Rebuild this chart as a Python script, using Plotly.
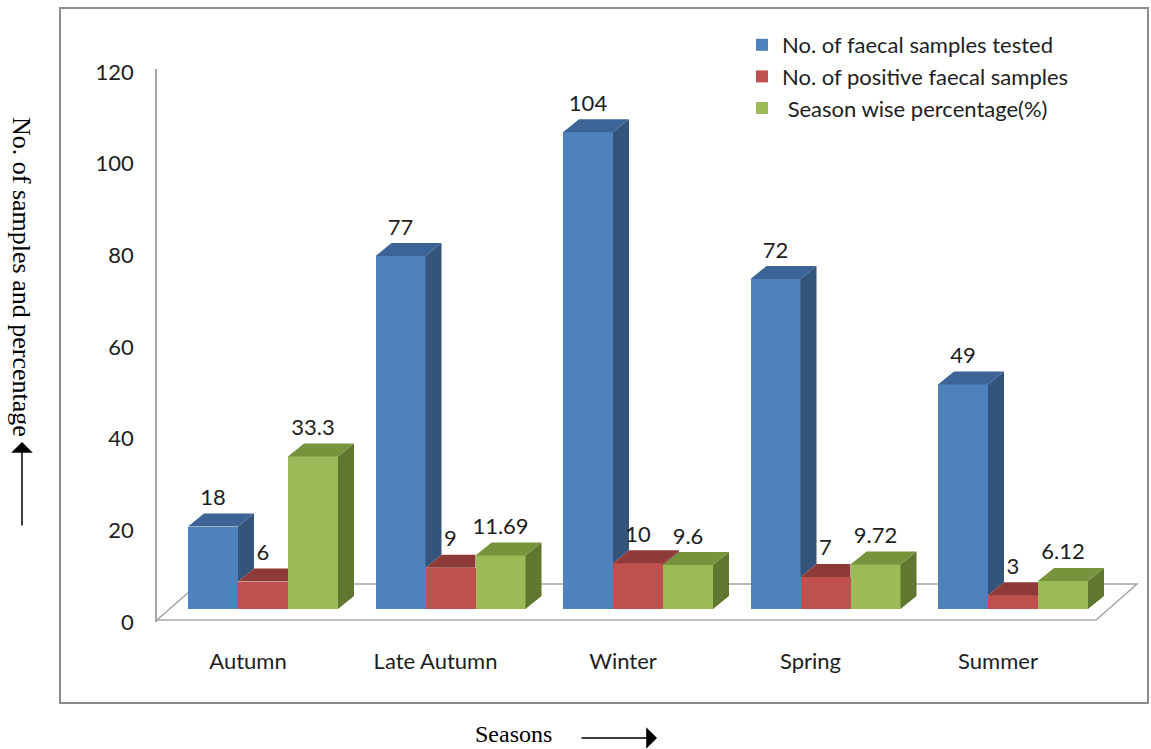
import plotly.graph_objects as go

# ---------------- data ----------------
categories = ["Autumn", "Late Autumn", "Winter", "Spring", "Summer"]
tested = [18, 77, 104, 72, 49]
positive = [6, 9, 10, 7, 3]
percentage = [33.3, 11.69, 9.6, 9.72, 6.12]
series_names = ["No. of faecal samples tested",
                "No. of positive faecal samples",
                " Season wise percentage(%)"]
y_ticks = [0, 20, 40, 60, 80, 100, 120]

# ---------------- style ----------------
front_colors = ["#4F81BD", "#C0504D", "#9BBB59"]
top_colors = ["#3C6496", "#8E3A38", "#77933C"]
side_colors = ["#34547C", "#7A3230", "#5F772F"]
LABEL_FONT = "Lato, 'Open Sans', sans-serif"
SERIF = "'Liberation Serif', 'Times New Roman', serif"
TXT = "#1E1E1E"

W, H = 1151, 749
PL, PR, PT, PB = 157, 1145, 69, 622          # plot area in pixels
GROUP_PX = 187.5                              # pixels per category
G0 = 263                                      # pixel of first category centre
PX_PER_UNIT = 4.583                           # pixels per value unit
BASE_PX = 609                                 # pixel row of value 0 for bars

x_range = [(PL - G0) / GROUP_PX, (PR - G0) / GROUP_PX]
y_range = [(BASE_PX - PB) / PX_PER_UNIT, (BASE_PX - PT) / PX_PER_UNIT]
y2_range = [0, (PB - PT) / PX_PER_UNIT]

bar_w = 50 / GROUP_PX
dx = 16 / GROUP_PX
dy = 13 / PX_PER_UNIT
label_lift = 3 / PX_PER_UNIT


def px_x(p):
    return (p - G0) / GROUP_PX


def px_y(p):
    return (BASE_PX - p) / PX_PER_UNIT


def paper_x(p):
    return p / W


def paper_y(p):
    return 1 - p / H


series = [tested, positive, percentage]
idx = list(range(len(categories)))
offsets = [-bar_w, 0.0, bar_w]

fig = go.Figure()

# front faces
for k, vals in enumerate(series):
    fig.add_trace(go.Bar(
        x=[i + offsets[k] for i in idx], y=vals, width=bar_w,
        marker=dict(color=front_colors[k], line=dict(width=0)),
        name=series_names[k], showlegend=True,
        hoverinfo="skip"))

# top and side faces (3-D look), computed from the values
for k, vals in enumerate(series):
    sx, sy, tx, ty = [], [], [], []
    for i in idx:
        v = vals[i]
        xl = i + offsets[k] - bar_w / 2
        xr = xl + bar_w
        nxt = series[k + 1][i] if k + 1 < len(series) else None
        # top face
        if nxt is not None and nxt >= v:
            tx += [xl, xr, xr, xl + dx, xl, None]
            ty += [v, v, v + dy, v + dy, v, None]
        else:
            tx += [xl, xr, xr + dx, xl + dx, xl, None]
            ty += [v, v, v + dy, v + dy, v, None]
        # side face
        lo = nxt if nxt is not None else 0
        if lo < v:
            sx += [xr, xr + dx, xr + dx, xr, xr, None]
            sy += [lo, lo + dy, v + dy, v, lo, None]
    fig.add_trace(go.Scatter(x=sx, y=sy, fill="toself", mode="lines",
                             line=dict(width=0), fillcolor=side_colors[k],
                             showlegend=False, hoverinfo="skip"))
    fig.add_trace(go.Scatter(x=tx, y=ty, fill="toself", mode="lines",
                             line=dict(width=0), fillcolor=top_colors[k],
                             showlegend=False, hoverinfo="skip"))

# data labels
for k, vals in enumerate(series):
    fig.add_trace(go.Scatter(
        x=[i + offsets[k] for i in idx],
        y=[v + dy + label_lift for v in vals],
        mode="text", text=[f"{v:g}" for v in vals],
        textposition="top center",
        textfont=dict(family=LABEL_FONT, size=22, color=TXT),
        showlegend=False, hoverinfo="skip", cliponaxis=False))

# invisible trace to activate y2 axis
fig.add_trace(go.Scatter(x=[None], y=[None], yaxis="y2", showlegend=False,
                         hoverinfo="skip"))

# floor
fl = [(PL, 620), (1096, 620), (1137, 584), (198, 584)]
path = "M " + " L ".join(f"{px_x(a)},{px_y(b)}" for a, b in fl) + " Z"
shapes = [
    dict(type="path", path=path, xref="x", yref="y", layer="below",
         line=dict(color="#A6A6A6", width=1.5), fillcolor="white"),
    dict(type="rect", xref="paper", yref="paper",
         x0=paper_x(60), x1=paper_x(1148), y0=paper_y(703), y1=paper_y(8),
         line=dict(color="#8C8C8C", width=2), fillcolor="rgba(0,0,0,0)",
         layer="below"),
]

annotations = [
    dict(text="No. of samples and percentage", textangle=90,
         x=paper_x(22), y=paper_y(277), xref="paper", yref="paper",
         xanchor="center", yanchor="middle",
         showarrow=False, font=dict(family=SERIF, size=26, color="black")),
    dict(text="", x=paper_x(22), y=paper_y(442), xref="paper", yref="paper",
         showarrow=True, ax=0, ay=85, arrowhead=1, arrowsize=2.4,
         arrowwidth=1.5, arrowcolor="black"),
    dict(text="Seasons", x=paper_x(513), y=paper_y(734), xref="paper",
         yref="paper", xanchor="center", yanchor="middle", showarrow=False,
         font=dict(family=SERIF, size=24, color="black")),
    dict(text="", x=paper_x(657), y=paper_y(738), xref="paper", yref="paper",
         showarrow=True, ax=-77, ay=0, arrowhead=1, arrowsize=2.4,
         arrowwidth=1.5, arrowcolor="black"),
]

fig.update_layout(
    width=W, height=H, autosize=False,
    margin=dict(l=0, r=0, t=0, b=0, pad=0, autoexpand=False),
    paper_bgcolor="white", plot_bgcolor="rgba(0,0,0,0)",
    barmode="overlay", bargap=0,
    showlegend=True,
    legend=dict(x=paper_x(742), y=paper_y(24), xanchor="left",
                yanchor="top", traceorder="normal",
                font=dict(family=LABEL_FONT, size=22, color=TXT),
                bgcolor="rgba(0,0,0,0)"),
    xaxis=dict(domain=[PL / W, PR / W], range=x_range, showgrid=False,
               zeroline=False, showline=False, tickmode="array",
               tickvals=[i - 0.08 for i in idx], ticktext=categories,
               ticks="", ticklabelstandoff=24, automargin=False,
               tickfont=dict(family=LABEL_FONT, size=22, color=TXT),
               fixedrange=True),
    yaxis=dict(domain=[1 - PB / H, 1 - PT / H], range=y_range,
               visible=False, showgrid=False, zeroline=False,
               automargin=False, fixedrange=True),
    yaxis2=dict(range=y2_range, overlaying="y", side="left",
                showgrid=False, zeroline=False, showline=True,
                linecolor="#A6A6A6", linewidth=1.5, automargin=False,
                tickmode="array", tickvals=y_ticks, ticks="",
                ticklabelstandoff=17,
                tickfont=dict(family=LABEL_FONT, size=22, color=TXT),
                fixedrange=True),
    shapes=shapes, annotations=annotations,
)

fig.write_html("out.html", config={"displayModeBar": False},
               post_script="document.body.style.margin='0';")
